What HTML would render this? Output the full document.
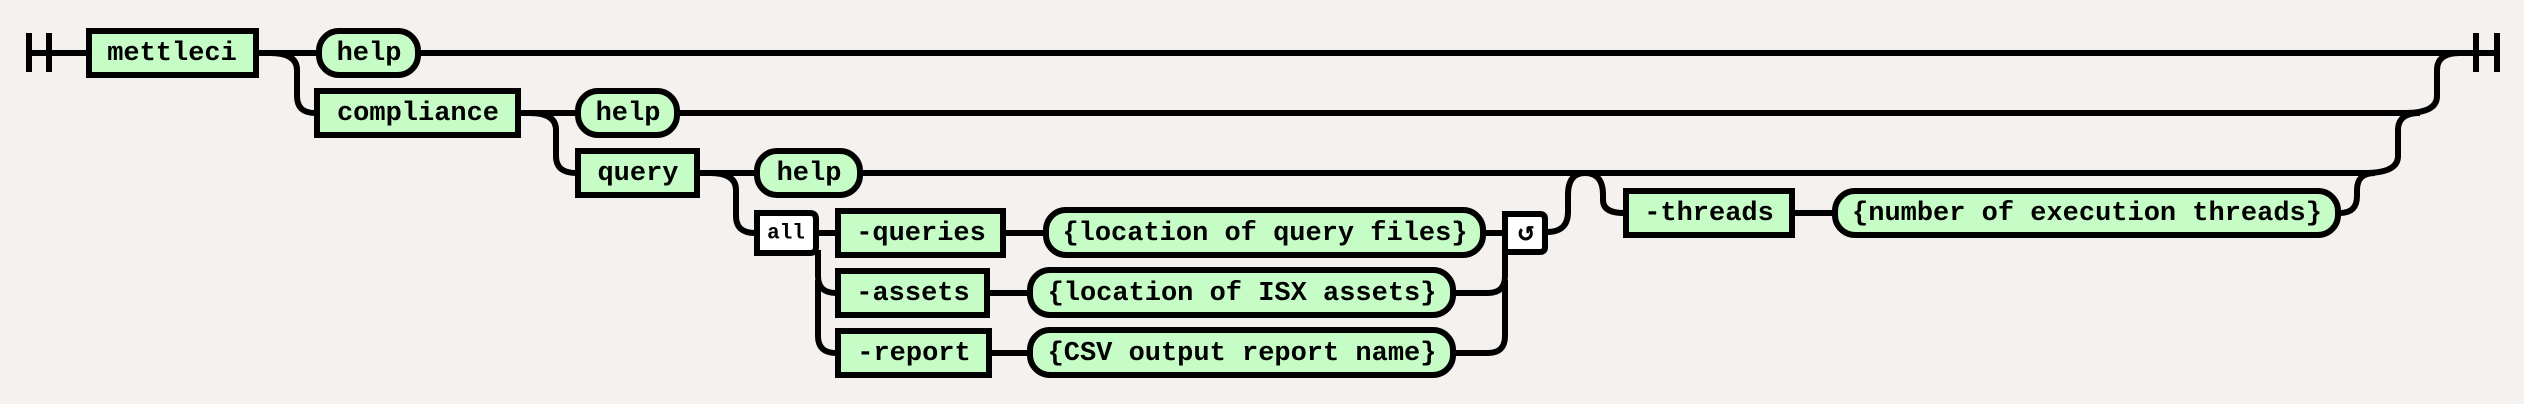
<!DOCTYPE html>
<html><head><meta charset="utf-8"><style>
html,body{margin:0;padding:0;background:#f4f1ee;}
svg{display:block}
text{font-family:"Liberation Mono",monospace;font-weight:bold;font-size:27px;fill:#000;}
</style></head><body>
<svg width="2524" height="404" viewBox="0 0 2524 404" xmlns="http://www.w3.org/2000/svg">
<g fill="none" stroke="#000" stroke-width="6" stroke-linecap="butt" stroke-linejoin="round">
<path d="M29,33V72M49,33V72"/>
<path d="M29,53H87"/>
<path d="M258,53H317M420,53H2497"/>
<path d="M2476,33V72M2497,33V72"/>
<path d="M270,53Q297,53 297,70V96Q297,113 315,113"/>
<path d="M520,113H576M679,113H2405Q2437,113 2437,96V70Q2437,53 2460,53"/>
<path d="M530,113Q556,113 556,130V156Q556,173 576,173"/>
<path d="M699,173H755M862,173H2365Q2398,173 2398,156V130Q2398,113 2420,113"/>
<path d="M710,173Q736,173 736,190V216Q736,233 755,233"/>
<path d="M818,233H836M1005,233H1044M1485,233H1505"/>
<path d="M818,250V276Q818,293 836,293H836M818,280V336Q818,353 836,353"/>
<path d="M989,293H1028M991,353H1028"/>
<path d="M1455,293H1488Q1505,293 1505,276V252M1455,353H1488Q1505,353 1505,336V280"/>
<path d="M1547,232Q1568,232 1568,212V195Q1568,173 1585,173Q1603,173 1603,195V200Q1603,213 1624,213"/>
<path d="M1794,213H1833M2340,213Q2357,213 2357,196V190Q2357,173 2375,173"/>
</g>
<g stroke="#000" stroke-width="6" fill="#c6fcc6">
<rect x="89" y="31" width="167" height="44"/>
<rect x="319" y="31" width="99" height="44" rx="20"/>
<rect x="317" y="91" width="201" height="44"/>
<rect x="578" y="91" width="99" height="44" rx="20"/>
<rect x="578" y="151" width="119" height="44"/>
<rect x="757" y="151" width="103" height="44" rx="20"/>
<rect x="838" y="211" width="165" height="44"/>
<rect x="1046" y="210" width="437" height="45" rx="20"/>
<rect x="838" y="271" width="149" height="44"/>
<rect x="1030" y="270" width="423" height="45" rx="20"/>
<rect x="838" y="331" width="151" height="44"/>
<rect x="1030" y="330" width="423" height="45" rx="20"/>
<rect x="1626" y="191" width="166" height="44"/>
<rect x="1835" y="191" width="503" height="44" rx="20"/>
<path d="M757,213H810Q816,213 816,219V247Q816,253 810,253H757Z" fill="#fff"/>
<path d="M1505,214H1540Q1545,214 1545,219V247Q1545,252 1540,252H1505Z" fill="#fff"/>
</g>
<g text-anchor="middle" dominant-baseline="central">
<text x="172" y="54">mettleci</text>
<text x="369" y="54">help</text>
<text x="418" y="114">compliance</text>
<text x="628" y="114">help</text>
<text x="638" y="174">query</text>
<text x="809" y="174">help</text>
<text x="786" y="234" style="font-size:21px">all</text>
<text x="921" y="234">-queries</text>
<text x="1265" y="234">{location of query files}</text>
<text x="913" y="294">-assets</text>
<text x="1242" y="294">{location of ISX assets}</text>
<text x="914" y="354">-report</text>
<text x="1242" y="354">{CSV output report name}</text>
<text x="1526" y="234">↺</text>
<text x="1709" y="214">-threads</text>
<text x="2087" y="214">{number of execution threads}</text>
</g>
</svg>
</body></html>
